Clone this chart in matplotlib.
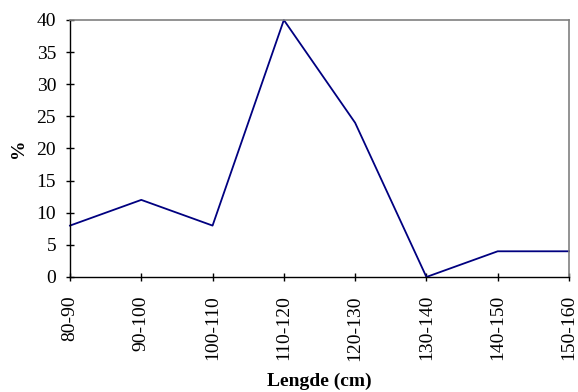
import matplotlib
matplotlib.use('Agg')
import matplotlib.pyplot as plt

# Given data
categories = ['80-90', '90-100', '100-110', '110-120', '120-130', '130-140', '140-150', '150-160']
percent = [8, 12, 8, 40, 24, 0, 4, 4]

plt.rcParams['font.family'] = 'Liberation Serif'

fig = plt.figure(figsize=(5.78, 3.92), dpi=100)
ax = fig.add_axes([0.1211, 0.2934, 0.8633, 0.6556])

x = list(range(len(categories)))
ax.plot(x, percent, color='#000080', linewidth=1.3, clip_on=False)

ax.set_xlim(0, len(categories) - 1)
ax.set_ylim(0, 40)
ax.set_yticks(range(0, 41, 5))
ax.set_xticks(x)
ax.set_xticklabels(categories, rotation=90)

ax.tick_params(axis='both', direction='inout', length=6, width=1, labelsize=14, color='black')
ax.tick_params(axis='x', pad=10)
ax.tick_params(axis='y', pad=7)
for side in ['left', 'bottom']:
    ax.spines[side].set_color('black')
    ax.spines[side].set_linewidth(1)
for side in ['top', 'right']:
    ax.spines[side].set_color('#808080')
    ax.spines[side].set_linewidth(1.2)

ax.set_xlabel('Lengde (cm)', fontsize=14, fontweight='bold', labelpad=9)
ax.set_ylabel('%', fontsize=14, fontweight='bold', labelpad=7)

fig.savefig('out.png', dpi=100)
